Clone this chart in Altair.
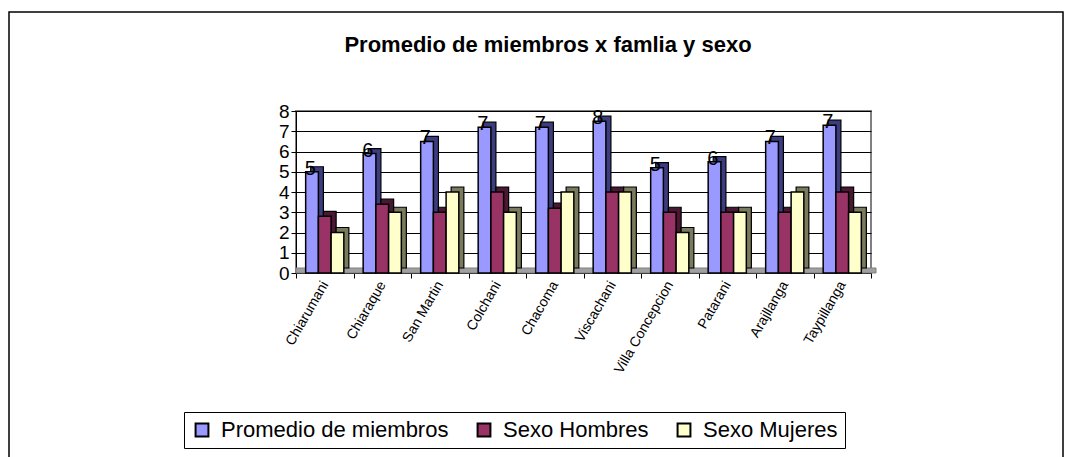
import altair as alt
import pandas as pd

titulo = "Promedio de miembros x famlia y sexo"
localidades = ["Chiarumani", "Chiaraque", "San Martin", "Colchani", "Chacoma",
               "Viscachani", "Villa Concepcion", "Patarani", "Arajllanga", "Taypillanga"]
promedio = [5.0, 5.9, 6.5, 7.2, 7.2, 7.5, 5.2, 5.5, 6.5, 7.3]
hombres = [2.8, 3.4, 3.0, 4.0, 3.2, 4.0, 3.0, 3.0, 3.0, 4.0]
mujeres = [2.0, 3.0, 4.0, 3.0, 4.0, 4.0, 2.0, 3.0, 4.0, 3.0]

series = ["Promedio de miembros", "Sexo Hombres", "Sexo Mujeres"]
front_colors = ["#9999FF", "#993366", "#FFFFCC"]
side_colors = ["#3c3c80", "#4a1832", "#7a7a5c"]

rows = []
for vals, s, dc in zip([promedio, hombres, mujeres], series, side_colors):
    for loc, v in zip(localidades, vals):
        rows.append({"loc": loc, "serie": s, "valor": v, "lado": dc})
df = pd.DataFrame(rows)

W, H = 575, 162

x_enc = alt.X("loc:N", sort=localidades, title=None,
              scale=alt.Scale(paddingInner=0, paddingOuter=0),
              axis=alt.Axis(labelAngle=-60, labelFontSize=14, labelFont="Liberation Sans",
                            labelColor="black", domainColor="black", tickColor="black",
                            tickBand="extent", tickSize=5, labelPadding=4, labelLimit=300))


def xo(align):
    return alt.XOffset("serie:N", sort=series,
                       scale=alt.Scale(domain=series, paddingInner=0, paddingOuter=0.76,
                                       align=align))


y_enc = alt.Y("valor:Q", title=None,
              scale=alt.Scale(domain=[0, 8], nice=False),
              axis=alt.Axis(values=list(range(0, 9)), labelFontSize=19, labelFont="Liberation Sans",
                            labelColor="black", domainColor="black", tickColor="black",
                            tickSize=5, labelPadding=2, grid=True, gridColor="black",
                            gridWidth=1))

base = alt.Chart(df)
one = pd.DataFrame({"t": [titulo]})

frame = alt.Chart(one).mark_rect(fill="white", fillOpacity=0, stroke="black",
                                 strokeWidth=1.5).encode(
    x=alt.value(-287), x2=alt.value(767), y=alt.value(-99), y2=alt.value(360))

title_txt = alt.Chart(one).mark_text(
    fontSize=22, font="Liberation Sans", fontWeight="bold", color="black",
    baseline="middle", align="center").encode(
    x=alt.value(252), y=alt.value(-66), text="t:N")

floor = alt.Chart(one).mark_rect(fill="#a0a0a0", stroke="#808080").encode(
    x=alt.value(0), x2=alt.value(W + 5), y=alt.value(H - 5), y2=alt.value(H))

depth = base.mark_bar(yOffset=-5, stroke="black", strokeWidth=1.2).encode(
    x=x_enc, xOffset=xo(0.76), y=y_enc,
    fill=alt.Fill("lado:N", scale=None, legend=None))

front = base.mark_bar(stroke="black", strokeWidth=1.5).encode(
    x=x_enc, xOffset=xo(0.5), y=y_enc,
    fill=alt.Fill("serie:N", sort=series,
                  scale=alt.Scale(domain=series, range=front_colors),
                  legend=alt.Legend(title=None, orient="none", direction="horizontal",
                                    legendX=-112, legendY=301,
                                    symbolType="square", symbolSize=165,
                                    symbolStrokeColor="black", symbolStrokeWidth=2,
                                    labelFontSize=22, labelFont="Liberation Sans",
                                    labelColor="black", columnPadding=24, labelOffset=8,
                                    labelLimit=400, padding=7,
                                    strokeColor="black", fillColor="white")))

labels = base.transform_filter(alt.datum.serie == series[0]).mark_text(
    fontSize=20, font="Liberation Sans", color="black", baseline="middle", dy=-3, dx=2).encode(
    x=x_enc, xOffset=xo(0.5), y=y_enc,
    text=alt.Text("valor:Q", format=".0f"))

chart = alt.layer(frame, title_txt, floor, depth, front, labels).resolve_scale(
    xOffset="independent", fill="independent"
).properties(
    width=W, height=H,
    autosize=alt.AutoSizeParams(type="none"),
    padding={"left": 288, "top": 103, "right": 194, "bottom": 184},
).configure_view(stroke="#808080", strokeWidth=2)

chart.save("out.html", embed_options={"renderer": "svg", "actions": False})
